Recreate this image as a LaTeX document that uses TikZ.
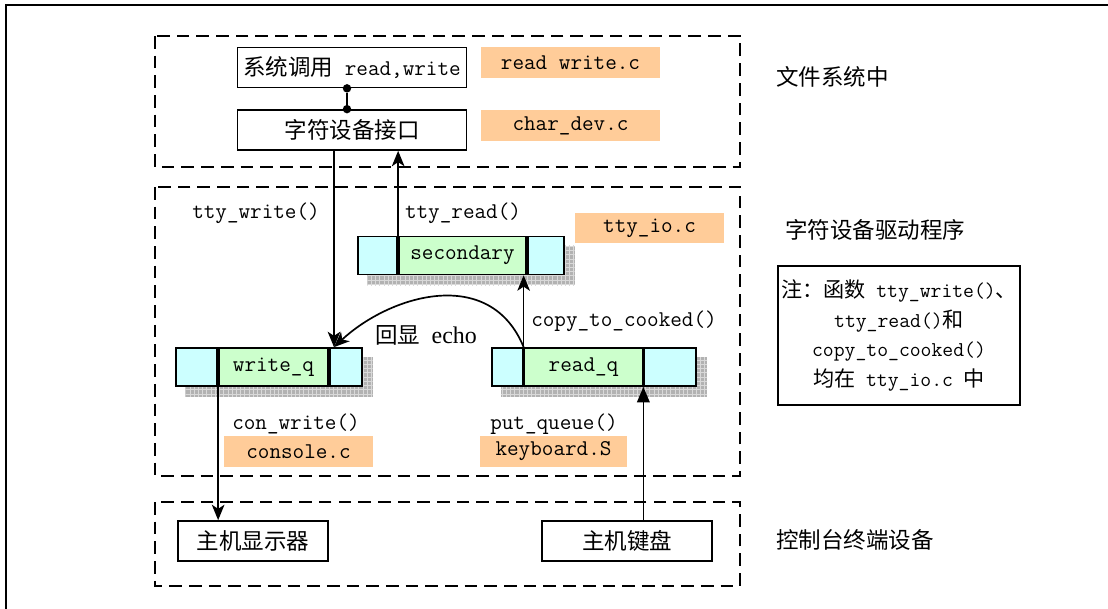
\documentclass[tikz,border=0pt]{standalone}
\usepackage{fontspec}
\newfontfamily\cjk{Noto Sans CJK SC}
\newfontfamily\lserif{Liberation Serif}
\usepackage{xcolor}
\definecolor{qcyan}{RGB}{204,255,255}
\definecolor{qgreen}{RGB}{204,255,204}
\definecolor{srcorg}{RGB}{255,204,153}
\usetikzlibrary{arrows.meta,backgrounds,patterns}
\newcommand\dfont{\fontsize{16}{21.3}\selectfont\ttfamily}
\tikzset{
  fbox/.style={rectangle,draw,line width=1.2pt,minimum width=#1,minimum height=1.0cm,
               inner sep=0pt,font=\dfont},
  fbox/.default=3.75cm,
  src/.style={rectangle,fill=srcorg,minimum width=#1,minimum height=0.76cm,
              inner sep=0pt,font=\dfont},
  src/.default=3.725cm,
  qmid/.style={rectangle,draw,line width=1.2pt,fill=qgreen,minimum width=#1,
               minimum height=0.95cm,inner sep=0pt,font=\dfont},
  qend/.style={rectangle,draw,line width=1.2pt,fill=qcyan,minimum width=#1,
               minimum height=0.95cm,inner sep=0pt},
  lbl/.style={inner sep=0pt,font=\dfont},
  grp/.style={draw,line width=1.2pt,dash pattern=on 9pt off 5pt},
  arr/.style={-{Stealth[length=11pt,width=9pt,inset=3pt]},line width=1.2pt},
}

\begin{document}
\begin{tikzpicture}[x=0.025cm,y=-0.025cm,
    joint/.style={circle,fill,inner sep=0pt,minimum size=6pt},
    carr/.style={-{Stealth[length=11pt,width=9pt,inset=3pt]},line width=0.6pt},
    karr/.style={-{Triangle[length=11pt,width=9pt]},line width=1pt},
    qshadow/.style={fill=gray!60,postaction={pattern=grid,pattern color=gray!30}},
  ]
  \useasboundingbox (0,0) rectangle (1108,609);
  % ── Outer frame
  \draw[line width=1.8pt] (6,609) -- (6,5) -- (1108,5);

  % ── Groups
  \draw[grp] (155,36) rectangle (740,167);
  \draw[grp] (155,187) rectangle (740,476);
  \draw[grp] (155,502) rectangle (740,586);

  % ── File system
  \node[fbox=5.725cm] (sys) at (352,67.5) {{\cjk 系统调用} read,write};
  \node[fbox=5.725cm] (chr) at (352,130) {\cjk 字符设备接口};
  \node[src=4.475cm] (rw) at (570.5,62.5) {read write.c};
  \node[src=4.475cm] (cd) at (570.5,125.5) {char\_dev.c};
  \node[joint] (d1) at (347,0 |- sys.south) {};
  \node[joint] (d2) at (347,0 |- chr.north) {};
  \draw[line width=1.2pt] (d1) -- (d2);

  % ── Queues
  \node[qmid=3.175cm] (sec) at (462.5,255.5) {secondary};
  \node[qend=0.975cm,anchor=east] (secL) at (sec.west) {};
  \node[qend=0.9cm,anchor=west] (secR) at (sec.east) {};
  \node[qmid=2.725cm] (wq) at (273.5,367) {write\_q};
  \node[qend=1.025cm,anchor=east] (wqL) at (wq.west) {};
  \node[qend=0.8cm,anchor=west] (wqR) at (wq.east) {};
  \node[qmid=2.95cm] (rq) at (583.5,367) {read\_q};
  \node[qend=0.775cm,anchor=east] (rqL) at (rq.west) {};
  \node[qend=1.3cm,anchor=west] (rqR) at (rq.east) {};
  \begin{scope}[on background layer]
    \foreach \q in {sec,wq,rq}
      \fill[qshadow] ([shift={(10,10)}]\q L.north west) rectangle ([shift={(10,10)}]\q R.south east);
  \end{scope}

  % ── Driver labels
  \node[lbl] (twl) at (256,213) {tty\_write()};
  \node[lbl] (trl) at (463,213) {tty\_read()};
  \node[lbl] (ctc) at (624,321) {copy\_to\_cooked()};
  \node[lbl] (echo) at (426,335) {{\cjk 回显} {\lserif\fontsize{17}{20}\selectfont echo}};
  \node[lbl] (cwl) at (296,424) {con\_write()};
  \node[lbl] (pql) at (554,424) {put\_queue()};
  \node[src] (tio) at (649.5,228) {tty\_io.c};
  \node[src] (con) at (298.5,451.5) {console.c};
  \node[src=3.675cm] (kb) at (553.5,451.5) {keyboard.S};

  % ── Devices
  \node[fbox=3.75cm] (scr) at (253,541) {\cjk 主机显示器};
  \node[fbox=4.25cm] (kbd) at (627,541) {\cjk 主机键盘};

  % ── Right column
  \node[lbl,anchor=west] (fs) at (776,77) {\cjk 文件系统中};
  \node[lbl,anchor=west] (drv) at (785,230) {\cjk 字符设备驱动程序};
  \node[lbl,anchor=west] (dev) at (776,540) {\cjk 控制台终端设备};
  \node[fbox=6.05cm,minimum height=3.475cm,align=center,
        font=\fontsize{15}{21.3}\selectfont\ttfamily] (note) at (899,335.5)
    {{\cjk 注：函数} tty\_write(){\cjk 、}\\tty\_read(){\cjk 和}\\
     copy\_to\_cooked()\\{\cjk 均在} tty\_io.c {\cjk 中}};

  % ── Arrows
  \coordinate (wqin) at (334,0 |- wqR.north);
  \draw[arr] (chr.south -| wqin) -- (wqin);
  \draw[arr] (secL.north east) -- (secL.north east |- chr.south);
  \draw[carr] (rqL.north east) -- (rqL.north east |- sec.south);
  \draw[arr] (rqL.north east) .. controls (490,265) and (390,295) .. (wqin);
  \draw[arr] (wqL.south east) -- (wqL.south east |- scr.north);
  \draw[karr] (kbd.north -| rqR.south west) -- (rqR.south west);
\end{tikzpicture}
\end{document}
